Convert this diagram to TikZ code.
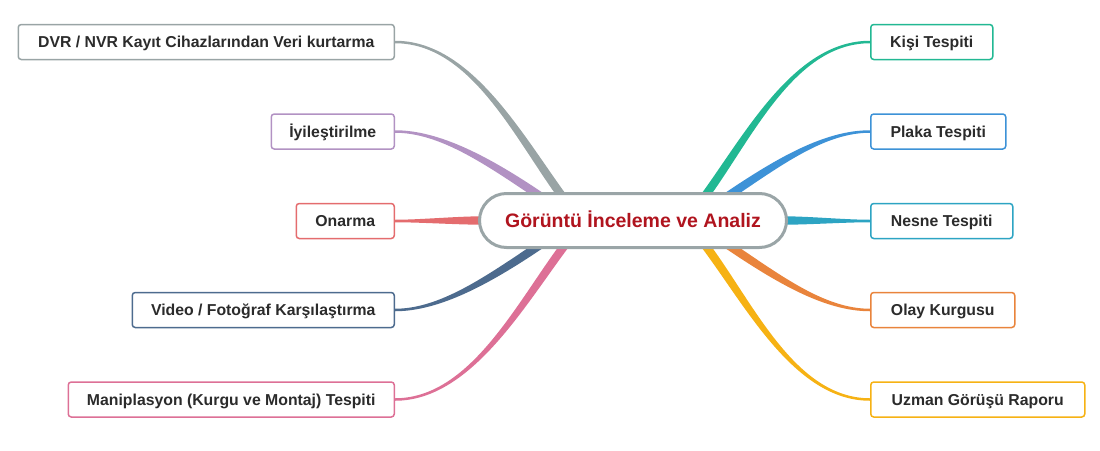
\documentclass[tikz,border=0pt]{standalone}
\usepackage{fontspec}
\setmainfont{Liberation Sans}
\usetikzlibrary{calc,backgrounds}
\definecolor{cgray}{HTML}{9AA5A7}
\definecolor{cred}{HTML}{B0141E}
\definecolor{txt}{HTML}{2B2B2B}
\definecolor{bgray}{HTML}{99A4A5}
\definecolor{bpurple}{HTML}{B292C3}
\definecolor{bred}{HTML}{E46C6E}
\definecolor{bnavy}{HTML}{4D6B8E}
\definecolor{bpink}{HTML}{DD7096}
\definecolor{bteal}{HTML}{22B893}
\definecolor{bblue}{HTML}{3D92D7}
\definecolor{bcyan}{HTML}{2DA4C3}
\definecolor{borange}{HTML}{E9843C}
\definecolor{byellow}{HTML}{F6B214}
\newcommand{\taperbranch}[5]{%
  \coordinate (sL) at ($(#2)!4.2pt!90:(#3)$);
  \coordinate (sR) at ($(#2)!4.2pt!-90:(#3)$);
  \coordinate (eL) at ($(#5)!1.25pt!-90:(#4)$);
  \coordinate (eR) at ($(#5)!1.25pt!90:(#4)$);
  \fill[#1] (sL) .. controls ($(#3)+(sL)-(#2)$) and ($(#4)+(eL)-(#5)$) .. (eL)
    -- (eR) .. controls ($(#4)+(eR)-(#5)$) and ($(#3)+(sR)-(#2)$) .. (sR) -- cycle;}
\begin{document}
\begin{tikzpicture}[x=1pt,y=-1pt,
  box/.style={draw=#1, line width=1.5pt, rounded corners=3pt, fill=white,
    minimum height=35pt, inner sep=0pt, text=txt, text height=11.3pt, text depth=0pt,
    font=\bfseries\fontsize{15.8}{18}\selectfont}]
\useasboundingbox (0,0) rectangle (1100,450);
\node[draw=cgray, line width=3pt, fill=white, rounded corners=27pt,
  minimum width=307pt, minimum height=54pt, inner sep=0pt, text=cred,
  text height=14pt, text depth=0pt,
  font=\bfseries\fontsize{19.5}{22}\selectfont] (c) at (633,220.5) {Görüntü İnceleme ve Analiz};
% left boxes
\node[box=bgray, minimum width=376pt, anchor=east] (dvr) at (395,42) {DVR / NVR Kayıt Cihazlarından Veri kurtarma};
\node[box=bpurple, minimum width=123pt, anchor=east] (iyi) at (395,131.5) {İyileştirilme};
\node[box=bred, minimum width=98pt, anchor=east] (ona) at (395,221) {Onarma};
\node[box=bnavy, minimum width=262pt, anchor=east] (vid) at (395,310) {Video / Fotoğraf Karşılaştırma};
\node[box=bpink, minimum width=326pt, anchor=east] (man) at (395,399.5) {Maniplasyon (Kurgu ve Montaj) Tespiti};
% right boxes
\node[box=bteal, minimum width=122pt, anchor=west] (kis) at (870,42) {Kişi Tespiti};
\node[box=bblue, minimum width=135pt, anchor=west] (pla) at (870,131.5) {Plaka Tespiti};
\node[box=bcyan, minimum width=142pt, anchor=west] (nes) at (870,221) {Nesne Tespiti};
\node[box=borange, minimum width=144pt, anchor=west] (ola) at (870,310) {Olay Kurgusu};
\node[box=byellow, minimum width=214pt, anchor=west] (uzm) at (870,399.5) {Uzman Görüşü Raporu};
% branch coordinates
\coordinate (s1) at ($(c.north)+(-71,4)$);
\coordinate (s2) at ($(c.north)+(-93,4)$);
\coordinate (s3) at ($(c.west)+(4,0)$);
\coordinate (s4) at ($(c.south)+(-93,-4)$);
\coordinate (s5) at ($(c.south)+(-68,-4)$);
\coordinate (s6) at ($(c.north)+(72,4)$);
\coordinate (s7) at ($(c.north)+(95,4)$);
\coordinate (s8) at ($(c.east)+(-4,0)$);
\coordinate (s9) at ($(c.south)+(95,-4)$);
\coordinate (s10) at ($(c.south)+(72,-4)$);
\coordinate (a1) at ($(s1)+(-45,-62)$);  \coordinate (b1) at ($(dvr.east)+(75,0)$);
\coordinate (a2) at ($(s2)+(-52,-35)$);  \coordinate (b2) at ($(iyi.east)+(45,0)$);
\coordinate (a3) at ($(s3)+(-25,0)$);    \coordinate (b3) at ($(ona.east)+(25,0)$);
\coordinate (a4) at ($(s4)+(-52,35)$);   \coordinate (b4) at ($(vid.east)+(45,0)$);
\coordinate (a5) at ($(s5)+(-45,60)$);   \coordinate (b5) at ($(man.east)+(75,0)$);
\coordinate (a6) at ($(s6)+(45,-62)$);   \coordinate (b6) at ($(kis.west)+(-75,0)$);
\coordinate (a7) at ($(s7)+(52,-35)$);   \coordinate (b7) at ($(pla.west)+(-45,0)$);
\coordinate (a8) at ($(s8)+(25,0)$);     \coordinate (b8) at ($(nes.west)+(-25,0)$);
\coordinate (a9) at ($(s9)+(52,35)$);    \coordinate (b9) at ($(ola.west)+(-45,0)$);
\coordinate (a10) at ($(s10)+(45,60)$);  \coordinate (b10) at ($(uzm.west)+(-75,0)$);
\begin{pgfonlayer}{background}
\taperbranch{bgray}{s1}{a1}{b1}{dvr.east}
\taperbranch{bpurple}{s2}{a2}{b2}{iyi.east}
\taperbranch{bred}{s3}{a3}{b3}{ona.east}
\taperbranch{bnavy}{s4}{a4}{b4}{vid.east}
\taperbranch{bpink}{s5}{a5}{b5}{man.east}
\taperbranch{bteal}{s6}{a6}{b6}{kis.west}
\taperbranch{bblue}{s7}{a7}{b7}{pla.west}
\taperbranch{bcyan}{s8}{a8}{b8}{nes.west}
\taperbranch{borange}{s9}{a9}{b9}{ola.west}
\taperbranch{byellow}{s10}{a10}{b10}{uzm.west}
\end{pgfonlayer}
\end{tikzpicture}
\end{document}
